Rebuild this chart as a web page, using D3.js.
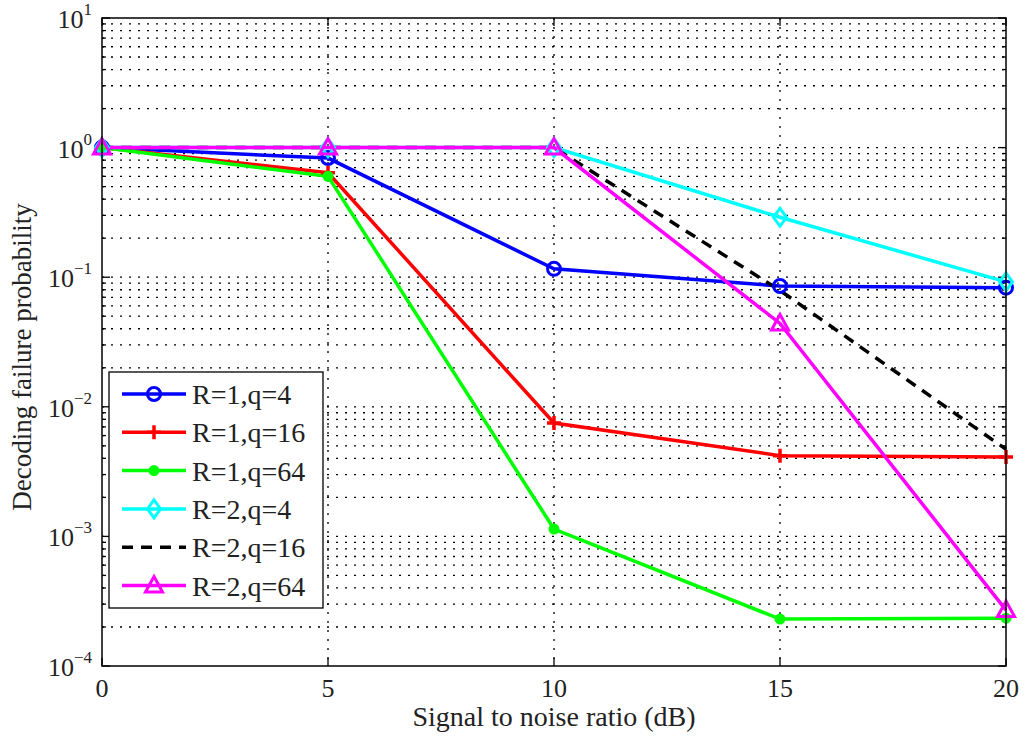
<!DOCTYPE html>
<html>
<head>
<meta charset="utf-8">
<script src="https://cdn.jsdelivr.net/npm/d3@7"></script>
<style>
  body { margin: 0; background: #fff; }
  text { font-family: "Liberation Serif", "Times New Roman", serif; fill: #222; }
</style>
</head>
<body>
<svg width="1027" height="740"></svg>
<script>
// data
var snr = [0, 5, 10, 15, 20]
var r1q4 = [1, 0.83, 0.116, 0.0855, 0.083]
var r1q16 = [1, 0.64, 0.0075, 0.0042, 0.0041]
var r1q64 = [1, 0.6, 0.00114, 0.00023, 0.000234]
var r2q4 = [1, 1, 1, 0.29, 0.092]
var r2q16 = [1, 1, 1, 0.079, 0.0047]
var r2q64 = [1, 1, 1, 0.044, 0.00027]
var xTicks = [0, 5, 10, 15, 20]
var yDecades = [-4, -3, -2, -1, 0, 1]

var series = [
  {name: "R=1,q=4", values: r1q4, color: "#0000ff", marker: "circle"},
  {name: "R=1,q=16", values: r1q16, color: "#ff0000", marker: "plus"},
  {name: "R=1,q=64", values: r1q64, color: "#00ff00", marker: "dot"},
  {name: "R=2,q=4", values: r2q4, color: "#00ffff", marker: "diamond"},
  {name: "R=2,q=16", values: r2q16, color: "#000000", marker: "none", dash: "11,8"},
  {name: "R=2,q=64", values: r2q64, color: "#ff00ff", marker: "triangle"}
]

var margin = {left: 102, top: 18, right: 21, bottom: 74}
var width = 1027 - margin.left - margin.right
var height = 740 - margin.top - margin.bottom

var svg = d3.select("svg")
var g = svg.append("g").attr("transform", "translate(" + margin.left + "," + margin.top + ")")

var x = d3.scaleLinear().domain([0, 20]).range([0, width])
var y = d3.scaleLog().domain([1e-4, 10]).range([height, 0])

// all log ticks (major + minor)
var yAll = []
yDecades.forEach(function(e) {
  for (var k = 1; k < 10; k++) {
    var v = k * Math.pow(10, e)
    if (v <= 10) yAll.push({v: v, major: k == 1})
  }
})

// grid
g.append("g").selectAll("line.hg")
  .data(yAll.filter(d => d.v > 1e-4 && d.v < 10))
  .enter().append("line")
  .attr("x1", 0).attr("x2", width)
  .attr("y1", d => y(d.v)).attr("y2", d => y(d.v))
  .attr("stroke", "#000").attr("stroke-width", 1.3)
  .attr("stroke-dasharray", "2,7")

g.append("g").selectAll("line.vg")
  .data(xTicks.slice(1, -1))
  .enter().append("line")
  .attr("x1", d => x(d)).attr("x2", d => x(d))
  .attr("y1", 0).attr("y2", height)
  .attr("stroke", "#000").attr("stroke-width", 1.3)
  .attr("stroke-dasharray", "2,7")

// ticks on all four sides, pointing inward
var tk = g.append("g").attr("stroke", "#000").attr("stroke-width", 1.3)
yAll.forEach(function(d) {
  var len = d.major ? 8 : 4
  tk.append("line").attr("x1", 0).attr("x2", len).attr("y1", y(d.v)).attr("y2", y(d.v))
  tk.append("line").attr("x1", width).attr("x2", width - len).attr("y1", y(d.v)).attr("y2", y(d.v))
})
xTicks.forEach(function(d) {
  tk.append("line").attr("x1", x(d)).attr("x2", x(d)).attr("y1", height).attr("y2", height - 8)
  tk.append("line").attr("x1", x(d)).attr("x2", x(d)).attr("y1", 0).attr("y2", 8)
})

// lines
var line = d3.line().x((d, i) => x(snr[i])).y(d => y(d))
series.forEach(function(s) {
  g.append("path")
    .attr("d", line(s.values))
    .attr("fill", "none")
    .attr("stroke", s.color)
    .attr("stroke-width", 3.5)
    .attr("stroke-dasharray", s.dash || null)
})

function drawMarker(sel, s, cx, cy) {
  if (s.marker == "circle") {
    sel.append("circle").attr("cx", cx).attr("cy", cy).attr("r", 6.5)
      .attr("fill", "none").attr("stroke", s.color).attr("stroke-width", 3)
  } else if (s.marker == "plus") {
    sel.append("path").attr("d", "M" + (cx - 7) + "," + cy + "H" + (cx + 7) + "M" + cx + "," + (cy - 7) + "V" + (cy + 7))
      .attr("stroke", s.color).attr("stroke-width", 3.5)
  } else if (s.marker == "dot") {
    sel.append("circle").attr("cx", cx).attr("cy", cy).attr("r", 5.5).attr("fill", s.color)
  } else if (s.marker == "diamond") {
    sel.append("path").attr("d", "M" + cx + "," + (cy - 9) + "L" + (cx + 6.5) + "," + cy + "L" + cx + "," + (cy + 9) + "L" + (cx - 6.5) + "," + cy + "Z")
      .attr("fill", "none").attr("stroke", s.color).attr("stroke-width", 3)
  } else if (s.marker == "triangle") {
    sel.append("path").attr("d", "M" + cx + "," + (cy - 9) + "L" + (cx + 8.5) + "," + (cy + 6.5) + "L" + (cx - 8.5) + "," + (cy + 6.5) + "Z")
      .attr("fill", "none").attr("stroke", s.color).attr("stroke-width", 3)
  }
}

series.forEach(function(s) {
  var mg = g.append("g")
  s.values.forEach(function(v, i) { drawMarker(mg, s, x(snr[i]), y(v)) })
})

// box
g.append("rect").attr("width", width).attr("height", height)
  .attr("fill", "none").attr("stroke", "#000").attr("stroke-width", 1.5)

// tick labels
xTicks.forEach(function(d) {
  g.append("text").attr("x", x(d)).attr("y", height + 31)
    .attr("text-anchor", "middle").attr("font-size", 26).text(d)
})
yDecades.forEach(function(e) {
  var t = g.append("text").attr("x", -10).attr("y", y(Math.pow(10, e)) + 10)
    .attr("text-anchor", "end").attr("font-size", 26)
  t.append("tspan").text("10")
  t.append("tspan").attr("dy", -13).attr("font-size", 17).text(e < 0 ? "\u2212" + (-e) : e)
})

// axis titles
svg.append("text").attr("x", margin.left + width / 2).attr("y", 726)
  .attr("text-anchor", "middle").attr("font-size", 28).text("Signal to noise ratio (dB)")
svg.append("text").attr("transform", "translate(31," + (margin.top + height / 2 + 15) + ") rotate(-90)")
  .attr("text-anchor", "middle").attr("font-size", 27).text("Decoding failure probability")

// legend
var leg = svg.append("g").attr("transform", "translate(109,372)")
leg.append("rect").attr("width", 214).attr("height", 236)
  .attr("fill", "#fff").attr("stroke", "#000").attr("stroke-width", 1.3)
series.forEach(function(s, i) {
  var cy = 22 + i * 38.3
  leg.append("line").attr("x1", 13).attr("x2", 77).attr("y1", cy).attr("y2", cy)
    .attr("stroke", s.color).attr("stroke-width", 3.5).attr("stroke-dasharray", s.dash || null)
  drawMarker(leg, s, 45, cy)
  leg.append("text").attr("x", 83).attr("y", cy + 10).attr("font-size", 28).text(s.name)
})
</script>
</body>
</html>
